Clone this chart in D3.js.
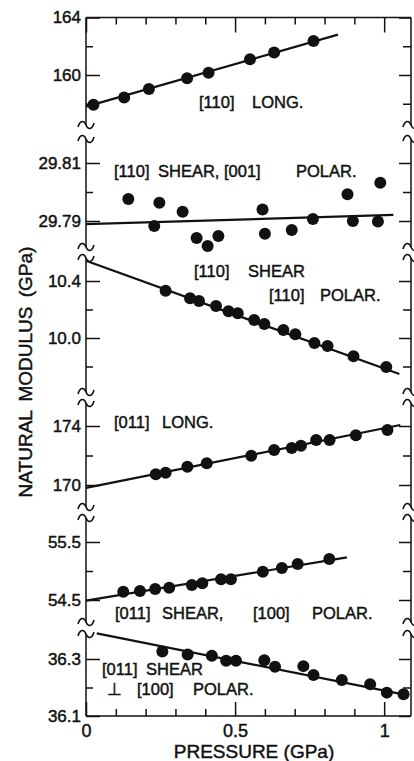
<!DOCTYPE html>
<html>
<head>
<meta charset="utf-8">
<script src="https://cdn.jsdelivr.net/npm/d3@7"></script>
<style>
  body { margin: 0; background: #fff; }
  svg { display: block; }
  text { font-family: "Liberation Sans", Arial, sans-serif; fill: #111; stroke: #111; stroke-width: 0.45px; }
</style>
</head>
<body>
<div id="chart_area"></div>
<script>
// pressure axis ticks (GPa)
var xMajor = [0, 0.5, 1];
var xMinor = [0.1, 0.2, 0.3, 0.4, 0.6, 0.7, 0.8, 0.9];

// [110] longitudinal
var pLong110 = [0.025, 0.128, 0.211, 0.339, 0.411, 0.550, 0.631, 0.763];
var mLong110 = [157.93, 158.43, 159.03, 159.77, 160.16, 161.10, 161.57, 162.37];
var fitLong110 = [[0, 157.8], [0.845, 162.81]];

// [110] shear, [001] polar
var pShear001 = [0.142, 0.229, 0.246, 0.324, 0.371, 0.408, 0.444, 0.592, 0.600, 0.690, 0.761, 0.877, 0.895, 0.979, 0.987];
var mShear001 = [29.7976, 29.7883, 29.7963, 29.7932, 29.7841, 29.7814, 29.7848, 29.7940, 29.7856, 29.7869, 29.7907, 29.7992, 29.7900, 29.7898, 29.8032];
var fitShear001 = [[0, 29.7889], [1.031, 29.7921]];

// [110] shear, [110] polar
var pShear110 = [0.267, 0.349, 0.379, 0.436, 0.478, 0.509, 0.564, 0.598, 0.662, 0.702, 0.766, 0.810, 0.897, 1.007];
var mShear110 = [10.332, 10.279, 10.260, 10.225, 10.187, 10.173, 10.126, 10.098, 10.056, 10.026, 9.965, 9.944, 9.872, 9.797];
var fitShear110 = [[0, 10.542], [1.051, 9.747]];

// [011] longitudinal
var pLong011 = [0.234, 0.267, 0.340, 0.405, 0.554, 0.631, 0.690, 0.721, 0.772, 0.817, 0.905, 1.011];
var mLong011 = [170.73, 170.83, 171.24, 171.47, 171.99, 172.37, 172.51, 172.66, 173.05, 173.05, 173.37, 173.73];
var fitLong011 = [[0, 169.80], [1.054, 174.07]];

// [011] shear, [100] polar
var pShear100 = [0.125, 0.181, 0.232, 0.279, 0.355, 0.390, 0.453, 0.486, 0.593, 0.657, 0.710, 0.816];
var mShear100 = [54.643, 54.655, 54.690, 54.712, 54.759, 54.788, 54.857, 54.857, 54.988, 55.052, 55.121, 55.207];
var fitShear100 = [[0, 54.488], [0.875, 55.236]];

// [011] shear, perpendicular [100] polar
var pShearPerp = [0.256, 0.341, 0.422, 0.470, 0.503, 0.598, 0.634, 0.729, 0.763, 0.858, 0.953, 1.009, 1.065];
var mShearPerp = [36.326, 36.316, 36.311, 36.294, 36.294, 36.296, 36.273, 36.275, 36.244, 36.226, 36.211, 36.182, 36.176];
var fitShearPerp = [[0.036, 36.390], [1.064, 36.176]];

// modulus tick values per panel
var majorTicks = [[160, 164], [29.79, 29.81], [10.0, 10.4], [170, 174], [54.5, 55.5], [36.1, 36.3]];
var minorTicks = [[158, 162], [29.80], [9.8, 10.2], [172], [55.0], [36.2]];
var tickFormats = ["d", ".2f", ".1f", "d", ".1f", ".1f"];

// layout
var width = 414, height = 761;
var xLeft = 86, xRight = 411, yTop = 17.5, yBottom = 716;
var tickPx = [[75, 17.5], [221, 163], [338, 281], [485, 426], [600, 542], [716, 659]];
var segments = [[17.5, 125], [139, 247], [258, 392], [403, 507], [518, 622], [634, 716]];

var panels = [
    { p: pLong110, m: mLong110, fit: fitLong110 },
    { p: pShear001, m: mShear001, fit: fitShear001 },
    { p: pShear110, m: mShear110, fit: fitShear110 },
    { p: pLong011, m: mLong011, fit: fitLong011 },
    { p: pShear100, m: mShear100, fit: fitShear100 },
    { p: pShearPerp, m: mShearPerp, fit: fitShearPerp }
];

var notes = [
    ["[110]", 199, 108], ["LONG.", 252, 108],
    ["[110]", 114, 177], ["SHEAR,", 158, 177], ["[001]", 224, 177], ["POLAR.", 296, 177],
    ["[110]", 194, 277], ["SHEAR", 248, 277],
    ["[110]", 269, 301], ["POLAR.", 320, 301],
    ["[011]", 114, 428], ["LONG.", 162, 428],
    ["[011]", 115, 619], ["SHEAR,", 162, 619], ["[100]", 253, 619], ["POLAR.", 312, 619],
    ["[011]", 102, 675], ["SHEAR", 146, 675],
    ["\u22A5", 107, 695], ["[100]", 137, 695], ["POLAR.", 193, 695]
];

var svg = d3.select("#chart_area")
    .append("svg")
    .attr("width", width)
    .attr("height", height);

var x = d3.scaleLinear().domain([0, 1.09]).range([xLeft, xRight]);

function cleanAxis(g) {
    g.select(".domain").remove();
    g.attr("font-size", null).attr("font-family", null);
    g.selectAll("line").attr("stroke", "#111").attr("stroke-width", 1.5);
    g.selectAll("text").attr("font-size", 17).attr("fill", "#111");
}

function tilde(cx, cy) {
    return "M" + (cx - 8) + "," + (cy + 2)
        + " C" + (cx - 6) + "," + (cy - 5) + " " + (cx - 2) + "," + (cy - 5) + " " + cx + "," + cy
        + " S" + (cx + 6) + "," + (cy + 5) + " " + (cx + 8) + "," + (cy - 2);
}

// top and bottom frame with pressure ticks
svg.append("g").attr("transform", "translate(0," + yTop + ")")
    .call(d3.axisTop(x).tickValues(xMinor).tickSize(-7).tickFormat("")).call(cleanAxis);
svg.append("g").attr("transform", "translate(0," + yTop + ")")
    .call(d3.axisTop(x).tickValues(xMajor).tickSize(-15).tickFormat("")).call(cleanAxis);
svg.append("g").attr("transform", "translate(0," + yBottom + ")")
    .call(d3.axisBottom(x).tickValues(xMinor).tickSize(-7).tickFormat("")).call(cleanAxis);
svg.append("g").attr("transform", "translate(0," + yBottom + ")")
    .call(d3.axisBottom(x).tickValues(xMajor).tickSize(-14).tickPadding(8)
        .tickFormat(function (d, i) { return ["0", "0.5", "1"][i]; }))
    .call(cleanAxis)
    .selectAll("text").attr("font-size", 18);

[yTop, yBottom].forEach(function (yy) {
    svg.append("line")
        .attr("x1", xLeft).attr("x2", xRight)
        .attr("y1", yy).attr("y2", yy)
        .attr("stroke", "#111").attr("stroke-width", 1.5);
});

var line = d3.line()
    .x(function (d) { return x(d[0]); });

panels.forEach(function (pn, i) {
    var y = d3.scaleLinear().domain(majorTicks[i]).range(tickPx[i]);
    var seg = segments[i];

    // left axis
    svg.append("g").attr("transform", "translate(" + xLeft + ",0)")
        .call(d3.axisLeft(y).tickValues(minorTicks[i]).tickSize(-7).tickFormat("")).call(cleanAxis);
    svg.append("g").attr("transform", "translate(" + xLeft + ",0)")
        .call(d3.axisLeft(y).tickValues(majorTicks[i]).tickSize(-14).tickPadding(5)
            .tickFormat(d3.format(tickFormats[i])))
        .call(cleanAxis);

    // right axis
    svg.append("g").attr("transform", "translate(" + xRight + ",0)")
        .call(d3.axisRight(y).tickValues(minorTicks[i]).tickSize(-8).tickFormat("")).call(cleanAxis);
    svg.append("g").attr("transform", "translate(" + xRight + ",0)")
        .call(d3.axisRight(y).tickValues(majorTicks[i]).tickSize(-12).tickFormat("")).call(cleanAxis);

    [xLeft, xRight].forEach(function (xx) {
        svg.append("line")
            .attr("x1", xx).attr("x2", xx)
            .attr("y1", seg[0]).attr("y2", seg[1])
            .attr("stroke", "#111").attr("stroke-width", 1.5);
    });

    // fitted line
    svg.append("path")
        .datum(pn.fit)
        .attr("d", line.y(function (d) { return y(d[1]); }))
        .attr("fill", "none")
        .attr("stroke", "#111")
        .attr("stroke-width", 2.2);

    // measured points
    svg.append("g")
        .selectAll("circle")
        .data(pn.p)
        .enter()
        .append("circle")
        .attr("cx", function (d) { return x(d); })
        .attr("cy", function (d, j) { return y(pn.m[j]); })
        .attr("r", 6)
        .attr("fill", "#111");
});

// axis breaks
for (var k = 0; k < segments.length - 1; k++) {
    [segments[k][1], segments[k + 1][0]].forEach(function (yy) {
        [xLeft, xRight].forEach(function (xx) {
            svg.append("path")
                .attr("d", tilde(xx, yy))
                .attr("fill", "none")
                .attr("stroke", "#111")
                .attr("stroke-width", 1.6);
        });
    });
}

// curve labels
svg.append("g")
    .selectAll("text")
    .data(notes)
    .enter()
    .append("text")
    .attr("x", function (d) { return d[1]; })
    .attr("y", function (d) { return d[2]; })
    .attr("font-size", 16.5)
    .text(function (d) { return d[0]; });

// axis titles
svg.append("text")
    .attr("x", 254)
    .attr("y", 758)
    .attr("text-anchor", "middle")
    .attr("font-size", 19)
    .text("PRESSURE (GPa)");

svg.append("text")
    .attr("transform", "translate(32,372) rotate(-90)")
    .attr("text-anchor", "middle")
    .attr("font-size", 19)
    .attr("word-spacing", 4)
    .text("NATURAL MODULUS (GPa)");
</script>
</body>
</html>
